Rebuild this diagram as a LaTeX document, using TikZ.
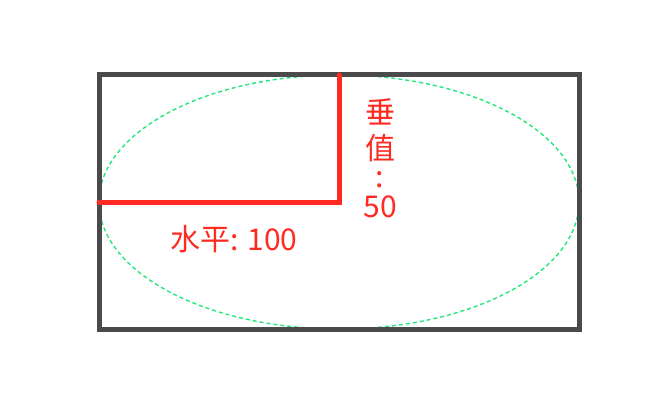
\documentclass[tikz,border=0pt]{standalone}
\usepackage{fontspec}
\setmainfont{Noto Sans CJK SC}
\usetikzlibrary{positioning}
\definecolor{boxgray}{HTML}{4A4A4A}
\definecolor{axisred}{HTML}{FF2A22}
\definecolor{ovalgreen}{HTML}{22E87C}
\begin{document}
\begin{tikzpicture}
  [x = 1pt, y = -1pt,
   frame/.style = {draw = boxgray, line width = 5pt},
   oval/.style = {draw = ovalgreen, line width = 1.4pt, dash pattern = on 4pt off 3pt},
   axis/.style = {draw = axisred, line width = 5pt, line cap = round},
   lbl/.style = {text = axisred, font = \fontsize{30}{34}\selectfont, inner sep = 0pt}]
  \useasboundingbox (0,0) rectangle (654,412);
  \draw[oval] (339,202) ellipse [x radius = 240, y radius = 127];
  \draw[frame] (99,75) rectangle (579,329);
  \coordinate (centre) at (339,202);
  \coordinate (left) at (99,202);
  \coordinate (top) at (339,75);
  \draw[axis] (left) -- (centre) -- (top);
  \node[lbl] (horiz) at (234,239) {水平: 100};
  \node[lbl, align = center, font = \fontsize{30}{32}\selectfont] (vert) at (380,158)
    {垂\\[4pt]值\\[-4pt]:\\[-2pt]50};
\end{tikzpicture}
\end{document}
